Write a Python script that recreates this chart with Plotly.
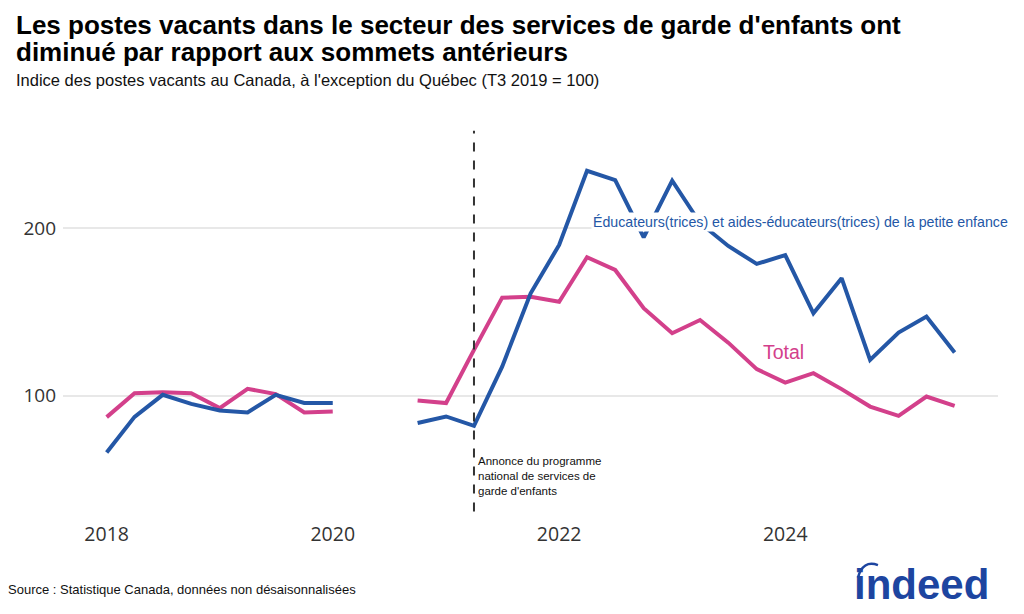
import plotly.graph_objects as go

quarters = ["2018-01-01", "2018-04-01", "2018-07-01", "2018-10-01",
            "2019-01-01", "2019-04-01", "2019-07-01", "2019-10-01",
            "2020-01-01", "2020-04-01", "2020-07-01", "2020-10-01",
            "2021-01-01", "2021-04-01", "2021-07-01", "2021-10-01",
            "2022-01-01", "2022-04-01", "2022-07-01", "2022-10-01",
            "2023-01-01", "2023-04-01", "2023-07-01", "2023-10-01",
            "2024-01-01", "2024-04-01", "2024-07-01", "2024-10-01",
            "2025-01-01", "2025-04-01", "2025-07-01"]

educateurs = [66.2, 87.5, 100.6, 95.2, 91.3, 90.1, 100.6, 95.8,
              95.8, None, None, 83.8, 87.7, 82.1, 117.4, 161.1,
              189.9, 234.1, 228.6, 194.5, 228.2, 203.0, 189.3, 178.6,
              183.9, 149.2, 170.1, 121.4, 137.7, 147.2, 125.8]

total = [87.3, 101.6, 102.2, 101.6, 92.7, 104.2, 101.0, 90.1,
         90.7, None, None, 97.2, 95.7, 127.4, 158.5, 159.1,
         156.1, 182.6, 175.0, 152.2, 137.3, 145.2, 131.7, 115.9,
         107.9, 113.5, 104.0, 93.6, 88.1, 99.6, 94.0]

annonce_date = "2021-04-01"
y_ticks = [100, 200]
x_ticks = ["2018-01-01", "2020-01-01", "2022-01-01", "2024-01-01"]
x_tick_text = ["2018", "2020", "2022", "2024"]

BLUE = "#2457a6"
PINK = "#d3408b"

fig = go.Figure()
fig.add_trace(go.Scatter(x=quarters, y=total, mode="lines", name="Total",
                         line=dict(color=PINK, width=4), connectgaps=False))
fig.add_trace(go.Scatter(x=quarters, y=educateurs, mode="lines",
                         name="Éducateurs(trices) et aides-éducateurs(trices) de la petite enfance",
                         line=dict(color=BLUE, width=4), connectgaps=False))

fig.add_shape(type="line", xref="x", yref="y", x0=annonce_date, x1=annonce_date,
              y0=31, y1=258, line=dict(color="#333333", width=2, dash="dash"))

fig.add_annotation(x=annonce_date, y=52.5, xref="x", yref="y", xanchor="left", yanchor="middle",
                   xshift=2, align="left", showarrow=False,
                   text="Annonce du programme<br>national de services de<br>garde d'enfants",
                   font=dict(family="Liberation Sans", size=11.5, color="#111111"))

fig.add_annotation(x="2022-04-14", y=203.6, xref="x", yref="y", xanchor="left", yanchor="middle",
                   showarrow=False, bgcolor="white", borderpad=1,
                   text="Éducateurs(trices) et aides-éducateurs(trices) de la petite enfance",
                   font=dict(family="Liberation Sans", size=14.2, color=BLUE))

fig.add_annotation(x="2023-12-26", y=126.2, xref="x", yref="y", xanchor="center", yanchor="middle",
                   showarrow=False, text="Total",
                   font=dict(family="Liberation Sans", size=19.5, color=PINK))

# title lines
fig.add_annotation(x=-0.0524, y=1.2492, xref="paper", yref="paper", xanchor="left", yanchor="middle",
                   showarrow=False,
                   text="<b>Les postes vacants dans le secteur des services de garde d'enfants ont</b>",
                   font=dict(family="Liberation Sans", size=26, color="#000000"))
fig.add_annotation(x=-0.0524, y=1.1811, xref="paper", yref="paper", xanchor="left", yanchor="middle",
                   showarrow=False,
                   text="<b>diminué par rapport aux sommets antérieurs</b>",
                   font=dict(family="Liberation Sans", size=26, color="#000000"))

fig.add_annotation(x=-0.0524, y=1.1105, xref="paper", yref="paper", xanchor="left", yanchor="middle",
                   showarrow=False,
                   text="Indice des postes vacants au Canada, à l'exception du Québec (T3 2019 = 100)",
                   font=dict(family="Liberation Sans", size=16.5, color="#111111"))

fig.add_annotation(x=-0.061, y=-0.1758, xref="paper", yref="paper", xanchor="left", yanchor="middle",
                   showarrow=False,
                   text="Source : Statistique Canada, données non désaisonnalisées",
                   font=dict(family="Liberation Sans", size=13, color="#111111"))

fig.add_annotation(x=0.9187, y=-0.162, xref="paper", yref="paper", xanchor="center", yanchor="middle",
                   showarrow=False, text="<b>indeed</b>",
                   font=dict(family="Liberation Sans", size=42, color="#1d45a0"))

fig.add_shape(type="path", xref="paper", yref="paper",
              path="M 0.8502 -0.1455 Q 0.8555 -0.1001 0.8716 -0.1140",
              line=dict(color="#1d45a0", width=2.5))

fig.update_layout(
    width=1024, height=614,
    paper_bgcolor="white", plot_bgcolor="white",
    margin=dict(l=55, r=34, t=116, b=102),
    showlegend=False,
    xaxis=dict(type="date", range=["2017-08-13", "2025-11-18"],
               tickvals=x_ticks, ticktext=x_tick_text, showgrid=False, zeroline=False,
               showline=False, ticks="",
               tickfont=dict(family="Open Sans", size=19.5, color="#333333")),
    yaxis=dict(range=[26, 262], tickvals=y_ticks, showgrid=True, gridcolor="#e8e8e8",
               gridwidth=1.5, zeroline=False, showline=False, ticks="", ticklabelstandoff=6,
               tickfont=dict(family="Open Sans", size=19, color="#333333")),
)

fig.write_html("out.html")
